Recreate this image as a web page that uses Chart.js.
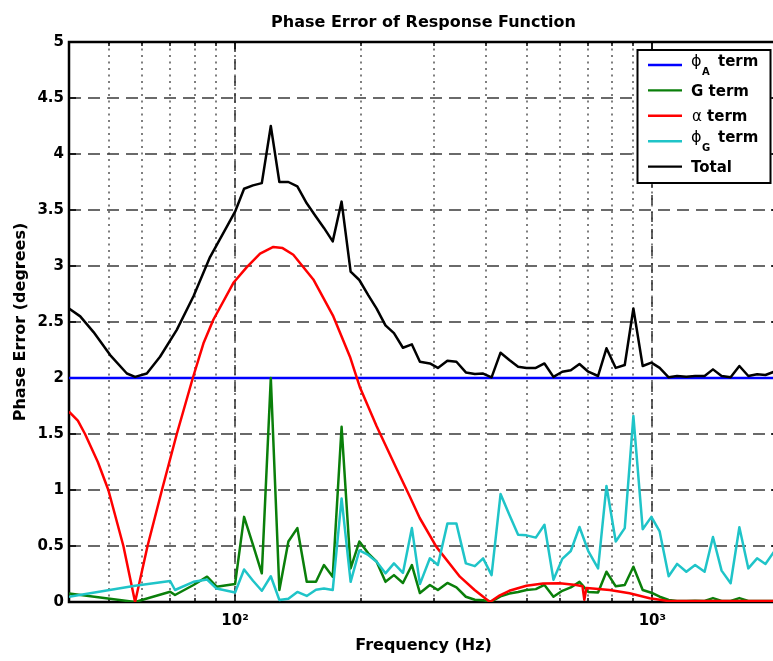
<!DOCTYPE html>
<html>
<head>
<meta charset="utf-8">
<title>Phase Error of Response Function</title>
<script src="https://cdn.jsdelivr.net/npm/chart.js@4.4.1/dist/chart.umd.min.js"></script>
<style>
html, body { margin:0; padding:0; background:#fff; overflow:hidden; }
#wrap { position:relative; width:790px; height:661px; }
canvas { display:block; }
</style>
</head>
<body>
<div id="wrap"><canvas id="chart" width="790" height="661" style="width:790px;height:661px"></canvas></div>
<script>
// ---------------- data ----------------
const chartTitle = 'Phase Error of Response Function';
const xAxisTitle = 'Frequency (Hz)';
const yAxisTitle = 'Phase Error (degrees)';
const seriesNames = ['ϕA term', 'G term', 'α term', 'ϕG term', 'Total'];
const seriesColors = ['#0000ff', '#0a7f0a', '#ff0000', '#1fc4c8', '#000000'];

const yTickValues = [0, 0.5, 1, 1.5, 2, 2.5, 3, 3.5, 4, 4.5, 5];
const yTickLabels = ['0', '0.5', '1', '1.5', '2', '2.5', '3', '3.5', '4', '4.5', '5'];
const xMajorTicks = [100, 1000];
const xMajorLabels = ['10²', '10³'];
const xMinorTicks = [50, 60, 70, 80, 90, 200, 300, 400, 500, 600, 700, 800, 900];

// phi_A term (flat)
const freqPhiA = [40, 2000];
const phiATerm = [2.0, 2.0];

// alpha term (smooth curve)
const freqAlpha = [40, 42, 43.7, 46.9, 49.7, 54.0, 57.6, 61.7, 66.8, 72.5, 79.2, 84, 88.7, 99.1, 106.7,
  114.8, 123.5, 130, 137.9, 154, 172, 188.5, 199, 218.4, 243.8, 262.4, 277, 304, 345.7, 375, 408,
  431, 454, 499, 547, 600, 657, 680, 687, 695, 708, 790, 882, 985, 1080, 1300, 2000];
const alphaTerm = [1.70, 1.62, 1.5, 1.25, 1.0, 0.5, 0, 0.5, 1.0, 1.5, 2.0, 2.31, 2.52, 2.85, 2.99,
  3.11, 3.17, 3.16, 3.10, 2.88, 2.55, 2.19, 1.92, 1.57, 1.19, 0.94, 0.75, 0.49, 0.226, 0.107, 0,
  0.06, 0.10, 0.145, 0.165, 0.167, 0.152, 0.14, 0.02, 0.125, 0.122, 0.107, 0.078, 0.033, 0.012, 0.008, 0.008];

// G term and phi_G term (noisy, measured frequencies)
const freqNoise = [40, 57.6, 69.9, 71.8, 79.5, 85.7, 90.3,
  100, 105.1, 110.4, 115.9, 121.8, 127.7, 134.2, 141.0, 148.5, 156.3, 163.3, 171.4, 180.0, 189.2,
  198.5, 208.5, 218.4, 229.3, 240.3, 252.5, 265.3, 277.3, 293.0, 306.2, 322.7, 339.2, 357.3, 375.5,
  393.0, 411.8, 432.7, 454.2, 476.7, 499.3, 525.6, 551.3, 579.4, 608.3, 637.5, 668.8, 702.1, 741.1,
  776.2, 817.0, 858.6, 900.5, 948.0, 994.5, 1041, 1094, 1146, 1206, 1266, 1334, 1397, 1465, 1540,
  1616, 1698, 1782, 1866, 1957, 2000];
const gTerm = [0.077, 0, 0.092, 0.0625, 0.152, 0.226, 0.137,
  0.16, 0.76, 0.51, 0.256, 2.0, 0.107, 0.54, 0.66, 0.18, 0.18, 0.33, 0.226, 1.565, 0.30,
  0.54, 0.435, 0.36, 0.18, 0.24, 0.17, 0.33, 0.08, 0.152, 0.107, 0.17, 0.13, 0.047, 0.02,
  0.015, 0.005, 0.05, 0.075, 0.09, 0.107, 0.115, 0.152, 0.047, 0.10, 0.13, 0.18, 0.09, 0.085,
  0.27, 0.14, 0.152, 0.315, 0.107, 0.083, 0.047, 0.018, 0.01, 0.01, 0.012, 0.01, 0.035, 0.01, 0.01,
  0.035, 0.01, 0.01, 0.01, 0.01, 0.01];
const phiGTerm = [0.047, 0.145, 0.1875, 0.107, 0.18, 0.20, 0.12,
  0.085, 0.29, 0.19, 0.10, 0.23, 0.018, 0.03, 0.09, 0.054, 0.11, 0.12, 0.107, 0.925, 0.18,
  0.46, 0.42, 0.36, 0.256, 0.345, 0.26, 0.66, 0.16, 0.39, 0.33, 0.70, 0.70, 0.345, 0.32,
  0.39, 0.24, 0.964, 0.78, 0.60, 0.595, 0.575, 0.69, 0.198, 0.385, 0.455, 0.67, 0.455, 0.30,
  1.036, 0.54, 0.66, 1.66, 0.65, 0.76, 0.63, 0.23, 0.34, 0.27, 0.33, 0.27, 0.58, 0.28, 0.167,
  0.667, 0.30, 0.39, 0.34, 0.45, 0.47];

// Total
const freqTotal = [40, 42.56, 45.8, 50.2, 55.05, 57.6, 61.45, 66.1, 72.5, 79.5, 87.1, 95.5,
  100, 105.1, 110.4, 115.9, 121.8, 127.7, 134.2, 141.0, 148.5, 156.3, 163.3, 171.4, 180.0, 189.2,
  198.5, 208.5, 218.4, 229.3, 240.3, 252.5, 265.3, 277.3, 293.0, 306.2, 322.7, 339.2, 357.3, 375.5,
  393.0, 411.8, 432.7, 454.2, 476.7, 499.3, 525.6, 551.3, 579.4, 608.3, 637.5, 668.8, 702.1, 741.1,
  776.2, 817.0, 858.6, 900.5, 948.0, 994.5, 1041, 1094, 1146, 1206, 1266, 1334, 1397, 1465, 1540,
  1616, 1698, 1782, 1866, 1957, 2000];
const totalVals = [2.62, 2.55, 2.41, 2.205, 2.04, 2.01, 2.04, 2.19, 2.43, 2.73, 3.08, 3.35,
  3.485, 3.69, 3.72, 3.74, 4.25, 3.75, 3.75, 3.71, 3.56, 3.44, 3.34, 3.22, 3.575, 2.95,
  2.875, 2.74, 2.62, 2.47, 2.40, 2.27, 2.30, 2.145, 2.13, 2.09, 2.155, 2.145, 2.05, 2.036,
  2.04, 2.006, 2.226, 2.16, 2.10, 2.09, 2.09, 2.13, 2.01, 2.056, 2.07, 2.125, 2.056, 2.018,
  2.265, 2.09, 2.116, 2.62, 2.107, 2.137, 2.09, 2.006, 2.018, 2.012, 2.018, 2.018, 2.077, 2.018, 2.006,
  2.107, 2.018, 2.033, 2.027, 2.056, 2.06];

// ---------------- helpers ----------------
const pts = (xs, ys) => xs.map((x, i) => ({ x: x, y: ys[i] }));
const FONT = '"DejaVu Sans", "Liberation Sans", Arial, sans-serif';

function seg(ctx, x1, y1, x2, y2) {
  ctx.beginPath(); ctx.moveTo(x1, y1); ctx.lineTo(x2, y2); ctx.stroke();
}

const matlabAxes = {
  id: 'matlabAxes',
  beforeDatasetsDraw(chart) {
    const { ctx, chartArea: a, scales: { x, y } } = chart;
    ctx.save();
    ctx.beginPath(); ctx.rect(a.left, a.top, a.right - a.left, a.bottom - a.top); ctx.clip();
    // dotted minor verticals (also at decades, as MATLAB does)
    ctx.strokeStyle = '#555'; ctx.lineWidth = 1.5; ctx.setLineDash([2, 4.5]);
    xMinorTicks.concat(xMajorTicks).forEach(v => {
      const px = Math.round(x.getPixelForValue(v));
      seg(ctx, px, a.top, px, a.bottom);
    });
    // dashed major verticals
    ctx.strokeStyle = '#333'; ctx.lineWidth = 1.5; ctx.setLineDash([10, 7]);
    xMajorTicks.forEach(v => {
      const px = Math.round(x.getPixelForValue(v));
      seg(ctx, px, a.top, px, a.bottom);
    });
    // dashed horizontals
    ctx.strokeStyle = '#3a3a3a'; ctx.lineWidth = 1.5; ctx.setLineDash([12, 7]);
    yTickValues.forEach(v => {
      const py = Math.round(y.getPixelForValue(v));
      seg(ctx, a.left, py, a.right, py);
    });
    ctx.setLineDash([]);
    // inward ticks
    ctx.strokeStyle = '#000'; ctx.lineWidth = 1.5;
    yTickValues.forEach(v => {
      const py = Math.round(y.getPixelForValue(v));
      seg(ctx, a.left, py, a.left + 7, py);
      seg(ctx, a.right, py, a.right - 7, py);
    });
    xMajorTicks.forEach(v => {
      const px = Math.round(x.getPixelForValue(v));
      seg(ctx, px, a.bottom, px, a.bottom - 7);
      seg(ctx, px, a.top, px, a.top + 7);
    });
    xMinorTicks.forEach(v => {
      const px = Math.round(x.getPixelForValue(v));
      seg(ctx, px, a.bottom, px, a.bottom - 4);
      seg(ctx, px, a.top, px, a.top + 4);
    });
    ctx.restore();
    // frame
    ctx.save();
    ctx.strokeStyle = '#000'; ctx.lineWidth = 2.5;
    ctx.strokeRect(a.left, a.top, a.right - a.left, a.bottom - a.top);
    ctx.restore();
  },
  afterDatasetsDraw(chart) {
    const { ctx, chartArea: a } = chart;
    ctx.save();
    // titles
    ctx.fillStyle = '#000';
    ctx.textAlign = 'center'; ctx.textBaseline = 'alphabetic';
    ctx.font = 'bold 16px ' + FONT;
    ctx.fillText(chartTitle, (a.left + a.right) / 2, 26.5);
    ctx.fillText(xAxisTitle, (a.left + a.right) / 2, 650);
    ctx.save();
    ctx.translate(25, (a.top + a.bottom) / 2);
    ctx.rotate(-Math.PI / 2);
    ctx.fillText(yAxisTitle, 0, 0);
    ctx.restore();

    // legend box
    const bx = 637.5, by = 50, bw = 133, bh = 133;
    ctx.fillStyle = '#fff'; ctx.fillRect(bx, by, bw, bh);
    ctx.strokeStyle = '#000'; ctx.lineWidth = 2; ctx.strokeRect(bx, by, bw, bh);
    ctx.textAlign = 'left';
    seriesNames.forEach((name, i) => {
      const ly = 65 + i * 25.4;
      ctx.strokeStyle = seriesColors[i]; ctx.lineWidth = 2.4;
      seg(ctx, 648, ly, 682, ly);
      ctx.fillStyle = '#000';
      const first = name.charAt(0);
      if (first === 'ϕ') {
        const sub = name.charAt(1);
        const rest = name.slice(2).trim();
        ctx.font = '16px ' + FONT;
        ctx.fillText(first, 691, ly + 1);
        const w1 = ctx.measureText(first).width;
        ctx.font = 'bold 10px ' + FONT;
        ctx.fillText(sub, 691 + w1 + 0.5, ly + 10);
        ctx.font = 'bold 15px ' + FONT;
        ctx.fillText(rest, 718, ly + 0.5);
      } else if (first === 'α') {
        ctx.font = '15px ' + FONT;
        ctx.fillText(first, 692, ly + 5.5);
        const w1 = ctx.measureText(first).width;
        ctx.font = 'bold 15px ' + FONT;
        ctx.fillText(name.slice(1), 692 + w1, ly + 5.5);
      } else {
        ctx.font = 'bold 15px ' + FONT;
        ctx.fillText(name, 691, ly + 5.5);
      }
    });
    ctx.restore();
  }
};

const mk = (i, xs, ys, order) => ({
  label: seriesNames[i],
  data: pts(xs, ys),
  borderColor: seriesColors[i],
  backgroundColor: seriesColors[i],
  borderWidth: 2.5,
  pointRadius: 0,
  tension: 0,
  fill: false,
  order: order,
  borderJoinStyle: 'round'
});

new Chart(document.getElementById('chart'), {
  type: 'line',
  data: {
    datasets: [
      mk(0, freqPhiA, phiATerm, 5),
      mk(1, freqNoise, gTerm, 4),
      mk(2, freqAlpha, alphaTerm, 3),
      mk(3, freqNoise, phiGTerm, 2),
      mk(4, freqTotal, totalVals, 1)
    ]
  },
  options: {
    responsive: false,
    animation: false,
    devicePixelRatio: 1,
    layout: { padding: { left: 0, right: 12, top: 42, bottom: 29 } },
    plugins: { legend: { display: false }, tooltip: { enabled: false }, title: { display: false } },
    scales: {
      x: {
        type: 'logarithmic',
        min: 40, max: 2000,
        grid: { display: false, drawTicks: false },
        border: { display: false },
        afterBuildTicks: (scale) => { scale.ticks = xMajorTicks.map(v => ({ value: v, major: true })); },
        afterFit: (scale) => { scale.height = 30; },
        ticks: {
          autoSkip: false, maxRotation: 0, minRotation: 0, padding: 10,
          color: '#000',
          font: { family: FONT, size: 15, weight: 'bold' },
          callback: (v) => { const k = xMajorTicks.indexOf(v); return k >= 0 ? xMajorLabels[k] : ''; }
        }
      },
      y: {
        type: 'linear',
        min: 0, max: 5,
        grid: { display: false, drawTicks: false },
        border: { display: false },
        afterBuildTicks: (scale) => { scale.ticks = yTickValues.map(v => ({ value: v })); },
        afterFit: (scale) => { scale.width = 69; },
        ticks: {
          padding: 5, color: '#000',
          font: { family: FONT, size: 15, weight: 'bold' },
          callback: (v) => { const k = yTickValues.indexOf(v); return k >= 0 ? yTickLabels[k] : ''; }
        }
      }
    }
  },
  plugins: [matlabAxes]
});
</script>
</body>
</html>
